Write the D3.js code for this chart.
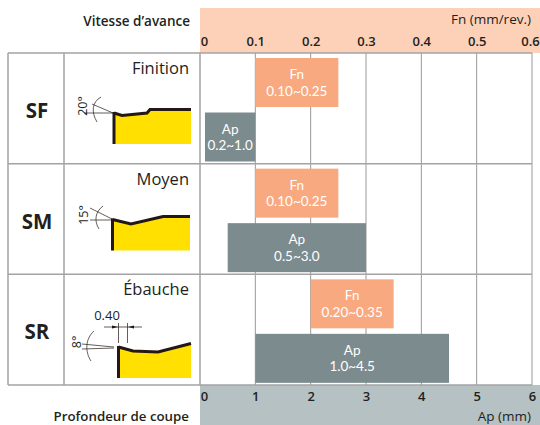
<!DOCTYPE html>
<html>
<head>
<meta charset="utf-8">
<script src="https://cdn.jsdelivr.net/npm/d3@7"></script>
<style>
body { margin: 0; background: #fff; overflow: hidden; }
text { font-family: "Open Sans", "Noto Sans", sans-serif; }
</style>
</head>
<body>
<div id="chart"></div>
<script>
// Values
const grades = ["SF", "SM", "SR"];
const finishes = ["Finition", "Moyen", "Ébauche"];
const fnLow = [0.10, 0.10, 0.20];
const fnHigh = [0.25, 0.25, 0.35];
const fnLabels = ["0.10~0.25", "0.10~0.25", "0.20~0.35"];
// the SF bar starts a little left of its printed 0.2
const apLow = [0.09, 0.5, 1.0];
const apHigh = [1.0, 3.0, 4.5];
const apLabels = ["0.2~1.0", "0.5~3.0", "1.0~4.5"];
const fnTicks = [0, 0.1, 0.2, 0.3, 0.4, 0.5, 0.6];
const apTicks = [0, 1, 2, 3, 4, 5, 6];

const width = 540, height = 425,
    plotLeft = 200, plotRight = 532, plotTop = 53, plotBottom = 385,
    tableLeft = 8, iconLeft = 64;

const lineColor = "#a3a3a3", textColor = "#231f20";

const svg = d3.select("#chart").append("svg")
    .attr("width", width)
    .attr("height", height)
    .style("display", "block");

const fnScale = d3.scaleLinear().domain([0, 0.6]).range([plotLeft, plotRight]);
const apScale = d3.scaleLinear().domain([0, 6]).range([plotLeft, plotRight]);
const rowScale = d3.scaleBand().domain(grades).range([plotTop, plotBottom]);

// Header and footer bands
svg.append("rect").attr("x", plotLeft).attr("y", 8)
    .attr("width", width - plotLeft).attr("height", plotTop - 8).attr("fill", "#fdd1b8");
svg.append("rect").attr("x", plotLeft).attr("y", plotBottom)
    .attr("width", width - plotLeft).attr("height", height - plotBottom).attr("fill", "#b5c1c3");

// Grid lines
svg.selectAll(".grid").data(apTicks.slice(1)).enter().append("line")
    .attr("x1", d => apScale(d)).attr("x2", d => apScale(d))
    .attr("y1", plotTop).attr("y2", plotBottom)
    .attr("stroke", "#999").attr("stroke-width", 1);

// Table lines
[tableLeft, iconLeft, plotLeft].forEach(function(x) {
    svg.append("line").attr("x1", x).attr("x2", x)
        .attr("y1", plotTop).attr("y2", plotBottom)
        .attr("stroke", lineColor).attr("stroke-width", 1.5);
});
grades.concat(["end"]).forEach(function(g) {
    let y = g === "end" ? plotBottom : rowScale(g);
    svg.append("line").attr("x1", tableLeft).attr("x2", plotRight)
        .attr("y1", y).attr("y2", y)
        .attr("stroke", lineColor).attr("stroke-width", 1.5);
});

// Top axis (feed)
const fnAxis = svg.append("g")
    .attr("transform", "translate(0," + (plotTop - 7) + ")")
    .call(d3.axisTop(fnScale).tickValues(fnTicks).tickSize(0).tickPadding(0)
        .tickFormat(d => d === 0 ? "0" : d3.format(".1f")(d)));
// Bottom axis (depth)
const apAxis = svg.append("g")
    .attr("transform", "translate(0," + (plotBottom + 7) + ")")
    .call(d3.axisBottom(apScale).tickValues(apTicks).tickSize(0).tickPadding(0)
        .tickFormat(d3.format("d")));

[fnAxis, apAxis].forEach(function(axis) {
    axis.select(".domain").remove();
    axis.selectAll("text")
        .attr("font-family", null)
        .style("font-size", "13px")
        .style("font-weight", 600)
        .style("fill", textColor);
    // first label sits inside the band
    axis.selectAll(".tick").filter(d => d === 0).select("text")
        .attr("dx", 4);
});
fnAxis.selectAll(".tick").filter(d => d === 0.6).select("text").attr("dx", -2);

// Axis captions
function caption(x, y, str, anchor, weight, size) {
    svg.append("text").attr("x", x).attr("y", y)
        .attr("text-anchor", anchor)
        .style("font-size", size + "px")
        .style("font-weight", weight)
        .style("fill", textColor)
        .text(str);
}
caption(190, 26, "Vitesse d’avance", "end", 600, 13.5);
caption(189, 421, "Profondeur de coupe", "end", 600, 13.3);
caption(531, 24, "Fn (mm/rev.)", "end", 500, 13.5);
caption(531, 421, "Ap (mm)", "end", 500, 13.5);

// Range bars
function drawBar(x1, x2, y, fill, name, range) {
    svg.append("rect").attr("x", x1).attr("y", y)
        .attr("width", x2 - x1).attr("height", 49).attr("fill", fill);
    let mid = (x1 + x2) / 2;
    [[name, 21], [range, 37.5]].forEach(function(t) {
        svg.append("text").attr("x", mid).attr("y", y + t[1])
            .attr("text-anchor", "middle")
            .style("font-family", "Lato, sans-serif")
            .style("font-size", "13.5px")
            .style("fill", "#fff")
            .text(t[0]);
    });
}

grades.forEach(function(g, i) {
    let top = rowScale(g);
    drawBar(fnScale(fnLow[i]), fnScale(fnHigh[i]), top + 5, "#f9a97f", "Fn", fnLabels[i]);
    drawBar(apScale(apLow[i]), apScale(apHigh[i]), top + 59.5, "#7c8b8e", "Ap", apLabels[i]);

    // Grade and finish names
    svg.append("text").attr("x", (tableLeft + iconLeft) / 2 + 1).attr("y", top + 65)
        .attr("text-anchor", "middle")
        .style("font-size", "20.5px").style("font-weight", 700)
        .style("fill", textColor).text(g);
    svg.append("text").attr("x", 189).attr("y", top + 21)
        .attr("text-anchor", "end")
        .style("font-size", "16.5px").style("font-weight", 400)
        .style("fill", textColor).text(finishes[i]);
});

// Insert profile sketches
function profile(points, bottom, leftWidth) {
    let line = d3.line();
    svg.append("path")
        .attr("d", line(points.concat([[points[points.length - 1][0], bottom], [points[0][0], bottom]])))
        .attr("fill", "#ffe000");
    svg.append("path").attr("d", line(points))
        .attr("fill", "none").attr("stroke", "#231815").attr("stroke-width", 3);
    svg.append("line")
        .attr("x1", points[0][0]).attr("x2", points[0][0])
        .attr("y1", points[0][1] - 1).attr("y2", bottom)
        .attr("stroke", "#231815").attr("stroke-width", leftWidth);
}
function thin(d) {
    svg.append("path").attr("d", d).attr("fill", "none")
        .attr("stroke", "#231815").attr("stroke-width", 0.7);
}
function angleText(x, y, str) {
    svg.append("text")
        .attr("transform", "translate(" + x + "," + y + ") rotate(-90)")
        .attr("text-anchor", "middle")
        .style("font-size", "12.5px")
        .style("fill", textColor)
        .text(str);
}

profile([[114, 113], [122, 115.5], [147, 113], [150, 109.5], [191, 109.5]], 144, 3);
thin("M113,113 L84,113 M113,113 L92,104");
thin("M101,97 C92,102 91,112 97,122");
angleText(87, 106, "20°");

profile([[112.5, 219.5], [131, 224], [163, 216.5], [190, 216.5]], 250.5, 3);
thin("M112,220 L90,220 M112,219 L90,208");
thin("M103,206 C95,212 94,221 99,229");
angleText(88, 215, "15°");

profile([[118.5, 347], [133, 351], [158, 352], [191, 343.5]], 378, 3);
thin("M114,347 L82,344 M114,348 L82,349");
thin("M94,331 C85,339 85,352 91,361");
angleText(81, 342, "8°");
thin("M118.5,323 L118.5,343 M127.5,323 L127.5,343 M104,327 L142,327");
svg.append("path").attr("d", "M118,327 L112,325.5 L112,328.5 Z M128,327 L134,325.5 L134,328.5 Z").attr("fill", "#231815");
svg.append("text").attr("x", 107).attr("y", 320)
    .attr("text-anchor", "middle")
    .style("font-size", "13px")
    .style("fill", textColor)
    .text("0.40");
</script>
</body>
</html>
